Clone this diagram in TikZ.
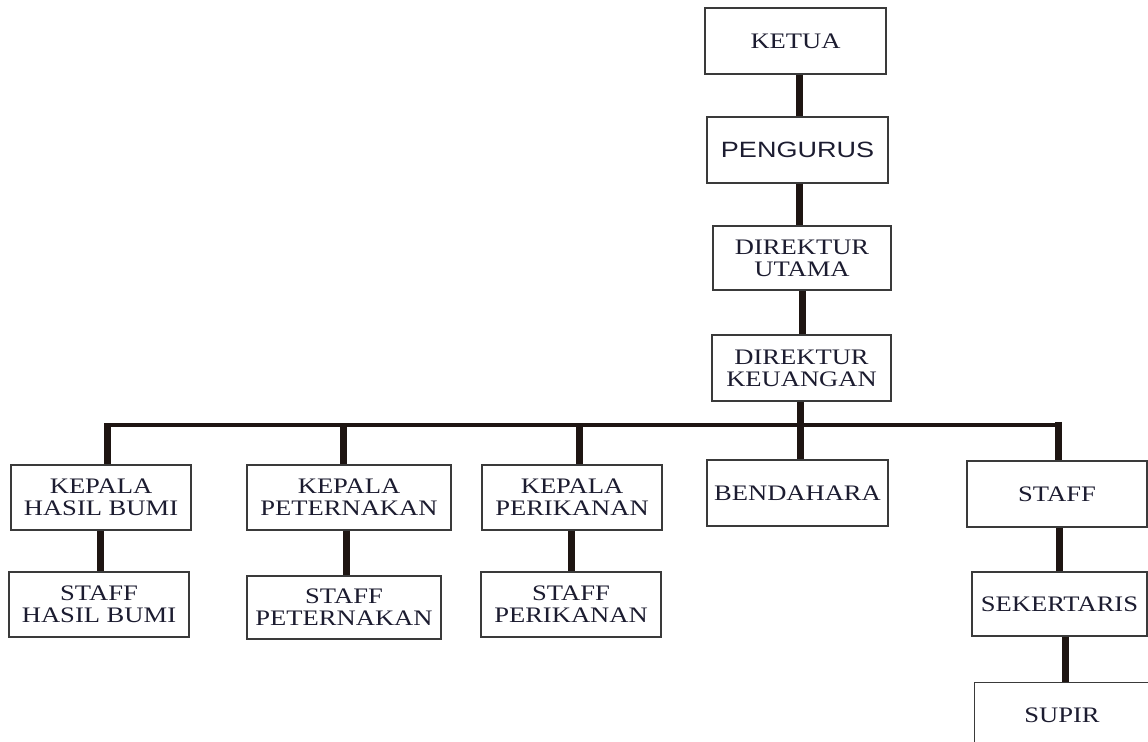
\documentclass[tikz,border=0pt]{standalone}
\usepackage{fontspec}
\setmainfont{Liberation Serif}[FakeStretch=1.2]
\newfontfamily\pengfont{Liberation Sans}[FakeStretch=1.22]
\definecolor{linecol}{HTML}{1E1512}
\definecolor{boxcol}{HTML}{3A3A3A}
\definecolor{txtcol}{HTML}{1C1C30}
\begin{document}
\begin{tikzpicture}[x=0.02cm,y=-0.02cm,
  orgbox/.style 2 args={draw=boxcol, line width=0.7pt, fill=white, inner sep=0pt,
    minimum width=#1*0.02cm, minimum height=#2*0.02cm, align=center,
    text=txtcol, font={\fontsize{12.6}{12.6}\selectfont}},
  conn/.style={draw=linecol, line width=0.14cm},
  busline/.style={draw=linecol, line width=0.08cm}]
\useasboundingbox (0,0) rectangle (1148,742);
\clip (0,0) rectangle (1148,742);
% bus coordinates
\coordinate (b1) at (107,425.5);
\coordinate (b2) at (343,425.5);
\coordinate (b3) at (579,425.5);
\coordinate (b4) at (800,425.5);
\coordinate (b5) at (1058,425.5);
% boxes
\node[orgbox={181}{66}] (ketua) at (795.5,41) {KETUA};
\node[orgbox={181}{66}, font={\pengfont\fontsize{12.6}{12.6}\selectfont}] (peng) at (797.5,150) {PENGURUS};
\node[orgbox={178}{64}] (dirut) at (802,258) {DIREKTUR\\UTAMA};
\node[orgbox={179}{66}] (dirkeu) at (801.5,368) {DIREKTUR\\KEUANGAN};
\node[orgbox={180}{65}] (khb) at (101,497.5) {KEPALA\\HASIL BUMI};
\node[orgbox={180}{65}] (shb) at (99,604.5) {STAFF\\HASIL BUMI};
\node[orgbox={204}{65}] (kpt) at (349,497.5) {KEPALA\\PETERNAKAN};
\node[orgbox={194}{63}] (spt) at (344,607.5) {STAFF\\PETERNAKAN};
\node[orgbox={180}{65}] (kpr) at (572,497.5) {KEPALA\\PERIKANAN};
\node[orgbox={180}{65}] (spr) at (571,604.5) {STAFF\\PERIKANAN};
\node[orgbox={181}{66}] (ben) at (797.5,493) {BENDAHARA};
\node[orgbox={180}{66}] (staff) at (1057,494) {STAFF};
\node[orgbox={175}{64}] (sek) at (1059.5,604) {SEKERTARIS};
\node[orgbox={176}{80}, anchor=north west] (supir) at (974,682) {};
\node[text=txtcol, font={\fontsize{12.6}{12.6}\selectfont}] (supirlabel) at (1062,715) {SUPIR};
% vertical chain
\draw[conn] ([xshift=0.07cm]ketua.south) -- ([xshift=0.07cm]ketua.south |- peng.north);
\draw[conn] ([xshift=0.03cm]peng.south) -- ([xshift=0.03cm]peng.south |- dirut.north);
\draw[conn] (dirut.south) -- (dirut.south |- dirkeu.north);
% bus
\draw[busline] (b1) -- (b5);
\draw[conn] (dirkeu.south -| b4) -- (b4 |- ben.north);
\draw[conn] ([yshift=0.04cm]b1) -- (b1 |- khb.north);
\draw[conn] (b2) -- (b2 |- kpt.north);
\draw[conn] (b3) -- (b3 |- kpr.north);
\draw[conn] ([yshift=0.07cm]b5) -- (b5 |- staff.north);
% sub connectors
\draw[conn] ([xshift=-0.02cm]khb.south) -- ([xshift=-0.02cm]khb.south |- shb.north);
\draw[conn] ([xshift=-0.06cm]kpt.south) -- ([xshift=-0.06cm]kpt.south |- spt.north);
\draw[conn] ([xshift=-0.02cm]kpr.south) -- ([xshift=-0.02cm]kpr.south |- spr.north);
\draw[conn] ([xshift=0.04cm]staff.south) -- ([xshift=0.04cm]staff.south |- sek.north);
\draw[conn] ([xshift=0.11cm]sek.south) -- ([xshift=0.11cm]sek.south |- supir.north);
\end{tikzpicture}
\end{document}
